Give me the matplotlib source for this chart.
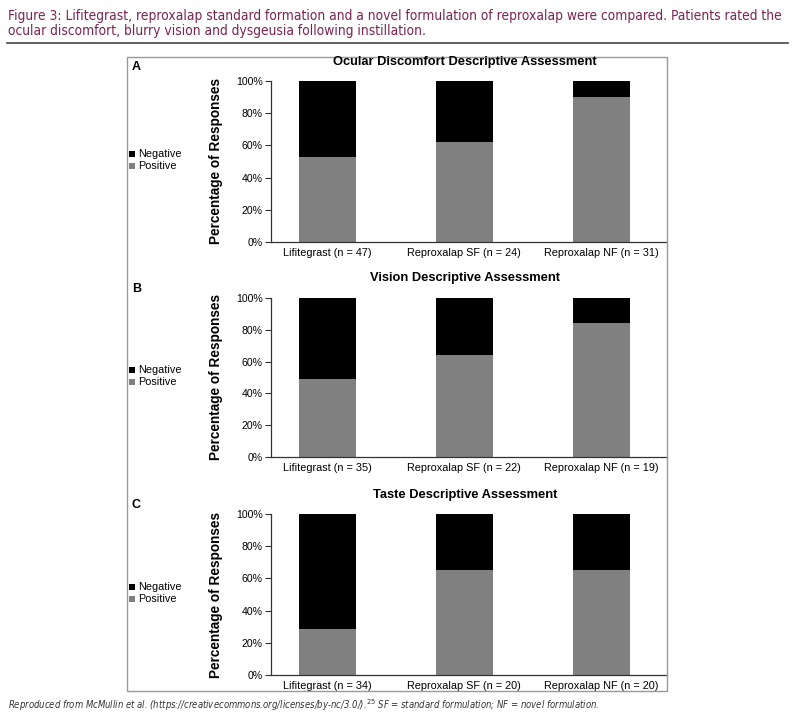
import os
import matplotlib
matplotlib.use("Agg")
import matplotlib.pyplot as plt
from matplotlib import font_manager
from matplotlib.font_manager import FontProperties
from matplotlib.patches import Rectangle
from matplotlib.lines import Line2D
from matplotlib.ticker import PercentFormatter

W, H = 796, 724

groups = ["Lifitegrast", "Reproxalap SF", "Reproxalap NF"]
n_ocular = [47, 24, 31]
n_vision = [35, 22, 19]
n_taste = [34, 20, 20]
pos_ocular = [53, 62, 90]
pos_vision = [49, 64, 84]
pos_taste = [28.5, 65, 65]
panel_titles = ["Ocular Discomfort Descriptive Assessment",
                "Vision Descriptive Assessment",
                "Taste Descriptive Assessment"]
panel_letters = ["A", "B", "C"]
caption = ["Figure 3: Lifitegrast, reproxalap standard formation and a novel formulation of reproxalap were compared. Patients rated the",
           "ocular discomfort, blurry vision and dysgeusia following instillation."]
footnote = "Reproduced from McMullin et al. (https://creativecommons.org/licenses/by-nc/3.0/).$^{25}$ SF = standard formulation; NF = novel formulation."

GRAY = "#808080"
BLACK = "#000000"
TITLE_COL = "#7b2452"

plt.rcParams['font.family'] = ['Liberation Sans', 'DejaVu Sans']

# narrow sans font for the caption if there is one
def find_narrow(wanted):
    files = {os.path.basename(f.fname): f.fname for f in font_manager.fontManager.ttflist}
    for w in wanted:
        if w in files:
            return FontProperties(fname=files[w])
    return None

fp_cap = find_narrow(["LiberationSansNarrow-Regular.ttf", "DejaVuSansCondensed.ttf"]) \
    or FontProperties(family='Roboto')
fp_foot = find_narrow(["LiberationSansNarrow-Italic.ttf", "DejaVuSansCondensed-Oblique.ttf"]) \
    or FontProperties(family='Roboto', style='italic')

fig = plt.figure(figsize=(W / 100, H / 100), dpi=100)
renderer = fig.canvas.get_renderer()

def px(x0, y0, x1, y1):
    # pixel box (top-left origin) -> figure fraction
    return [x0 / W, 1 - y1 / H, (x1 - x0) / W, (y1 - y0) / H]

def fitted_text(x, y, s, fp, size, target_w, **kw):
    fp = fp.copy()
    fp.set_size(size)
    t = fig.text(x / W, 1 - y / H, s, fontproperties=fp, va='baseline', **kw)
    w = t.get_window_extent(renderer).width
    if w > target_w:
        fp.set_size(size * target_w / w)
        t.set_fontproperties(fp)
    return t

t1 = fitted_text(8, 20, caption[0], fp_cap, 11, 775, color=TITLE_COL)
fp2 = fp_cap.copy()
fp2.set_size(t1.get_fontproperties().get_size())
fig.text(8 / W, 1 - 35 / H, caption[1], fontproperties=fp2, va='baseline', color=TITLE_COL)
fig.add_artist(Line2D([7 / W, 788 / W], [1 - 43 / H, 1 - 43 / H], color="#444444", lw=1.2))

fitted_text(8, 709, footnote, fp_foot, 7.5, 592, color="#333333")

# panel frame
fig.add_artist(Rectangle((127 / W, 1 - 691 / H), (667 - 127) / W, (691 - 57) / H,
                         fill=False, edgecolor="#999999", lw=1.0))

# axes pixel bounds: (top of 100%, bottom at 0%)
bounds = [(81, 242), (298, 457), (514, 675)]
titles_y = [62, 278, 495]
letters_y = [67, 289, 505]
legend_y = [154, 370, 587]

all_pos = [pos_ocular, pos_vision, pos_taste]
all_n = [n_ocular, n_vision, n_taste]

for i in range(3):
    top, bot = bounds[i]
    ax = fig.add_axes(px(271, top, 667, bot))
    xs = range(len(groups))
    pos = all_pos[i]
    neg = [100 - p for p in pos]
    ax.bar(xs, pos, width=0.415, color=GRAY, edgecolor='none')
    ax.bar(xs, neg, bottom=pos, width=0.415, color=BLACK, edgecolor='none')
    ax.set_xlim(-0.41, 2.48)
    ax.set_ylim(0, 100)
    ax.set_yticks([0, 20, 40, 60, 80, 100])
    ax.yaxis.set_major_formatter(PercentFormatter(decimals=0))
    ax.set_xticks(list(xs))
    ax.set_xticklabels([f"{g} (n = {n})" for g, n in zip(groups, all_n[i])])
    ax.tick_params(axis='y', labelsize=7.6, length=4, width=0.8, pad=2, color="#333333")
    ax.tick_params(axis='x', labelsize=7.8, length=0, pad=4)
    for s in ['top', 'right']:
        ax.spines[s].set_visible(False)
    ax.spines['left'].set_color("#333333")
    ax.spines['bottom'].set_color("#333333")
    ax.spines['left'].set_linewidth(0.9)
    ax.spines['bottom'].set_linewidth(0.9)
    ax.set_ylabel("Percentage of Responses", fontsize=9.8, fontweight='bold', labelpad=9)

    fig.text(465 / W, 1 - titles_y[i] / H, panel_titles[i], fontsize=9.3,
             fontweight='bold', ha='center', va='center')
    fig.text(132 / W, 1 - letters_y[i] / H, panel_letters[i], fontsize=9,
             fontweight='bold', ha='left', va='center')

    # legend
    ly = legend_y[i]
    for j, (lab, col) in enumerate([("Negative", BLACK), ("Positive", GRAY)]):
        yy = ly + j * 12
        fig.add_artist(Rectangle((129 / W, 1 - (yy + 3) / H), 6 / W, 6 / H,
                                 facecolor=col, edgecolor='none'))
        fig.text(138 / W, 1 - yy / H, lab, fontsize=7.8, ha='left', va='center')

fig.savefig("out.png", dpi=100)
